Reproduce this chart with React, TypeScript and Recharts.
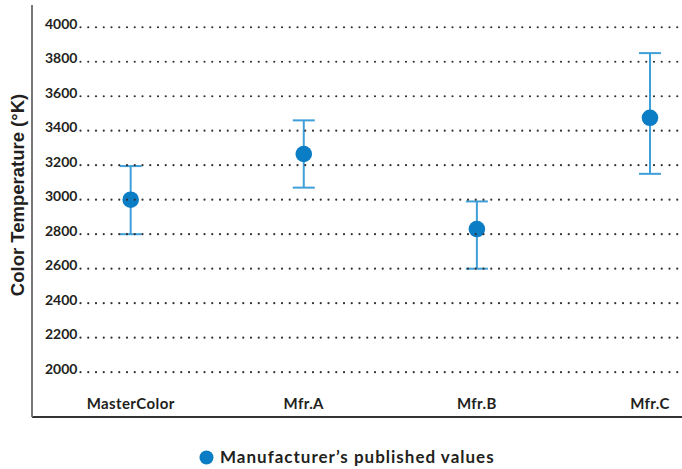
import React from 'react';
import { ScatterChart, Scatter, XAxis, YAxis, ErrorBar, Legend } from 'recharts';

const categories = ['MasterColor', 'Mfr.A', 'Mfr.B', 'Mfr.C'];
const publishedValues = [3000, 3265, 2830, 3475];
const lowValues = [2800, 3070, 2600, 3150];
const highValues = [3195, 3460, 2990, 3850];
const yTicks = [2000, 2200, 2400, 2600, 2800, 3000, 3200, 3400, 3600, 3800, 4000];
const xTicks = [0, 1, 2, 3];
const seriesName = 'Manufacturer\u2019s published values';
const yTitle = 'Color Temperature (\u00B0K)';

const data = categories.map((c, i) => ({
  x: i,
  name: c,
  y: publishedValues[i],
  err: [publishedValues[i] - lowValues[i], highValues[i] - publishedValues[i]],
}));

const POINT = '#0a7dc5';
const BAR = '#3f9fd8';
const TEXT = '#231f20';
const LABEL_FONT = 'Lato, "Open Sans", sans-serif';

const YTick = (props: any) => {
  const { y, payload } = props;
  const x = 32;
  return (
    <g>
      <text x={x + 13} y={y + 1.5} fontFamily={LABEL_FONT} fontWeight={700} fontSize={14} fill={TEXT} textAnchor="start">
        {payload.value}
      </text>
      <line x1={x + 48.5} x2={682} y1={y} y2={y} stroke="#333" strokeWidth={2.2} strokeDasharray="0 7.75" strokeLinecap="round" />
    </g>
  );
};

const XTick = (props: any) => {
  const { x, payload } = props;
  return (
    <text x={x} y={409} fontFamily={LABEL_FONT} fontWeight={700} fontSize={15} fill={TEXT} textAnchor="middle" letterSpacing={0.4}>
      {categories[payload.value]}
    </text>
  );
};

const YTitle = () => {
  const cx = 24;
  const cy = 195;
  return (
    <text x={cx} y={cy} transform={`rotate(-90 ${cx} ${cy})`} fontFamily='"Liberation Sans", Arial, sans-serif' fontWeight={700} fontSize={18.5} fill={TEXT} textAnchor="middle">
      {yTitle}
    </text>
  );
};

const LegendContent = () => (
  <div style={{ display: 'flex', alignItems: 'center', fontFamily: LABEL_FONT, fontWeight: 700, fontSize: 17, letterSpacing: 1, color: TEXT, whiteSpace: 'nowrap', lineHeight: '20px' }}>
    <svg width={15} height={15} style={{ display: 'block' }}>
      <circle cx={7.5} cy={7.5} r={7} fill={POINT} />
    </svg>
    <span style={{ marginLeft: 6 }}>{seriesName}</span>
  </div>
);

const Dot = (props: any) => {
  const { cx, cy } = props;
  return <circle cx={cx} cy={cy} r={8.3} fill={POINT} />;
};

export default function App() {
  return (
    <div style={{ position: 'absolute', left: 0, top: 0, width: 682, height: 469, background: '#fff' }}>
      <ScatterChart width={682} height={469} margin={{ top: 5, right: 0, bottom: 51, left: 31 }}>
        <XAxis
          type="number"
          dataKey="x"
          domain={[-0.57, 3.185]}
          allowDataOverflow
          ticks={xTicks}
          height={1}
          tickSize={0}
          tickMargin={0}
          tickLine={false}
          axisLine={{ stroke: '#333', strokeWidth: 2 }}
          tick={<XTick />}
          interval={0}
        />
        <YAxis
          type="number"
          dataKey="y"
          domain={[1740, 4129]}
          allowDataOverflow
          ticks={yTicks}
          width={1}
          tickSize={0}
          tickMargin={0}
          tickLine={false}
          axisLine={{ stroke: '#777', strokeWidth: 2 }}
          tick={<YTick />}
          interval={0}
          label={<YTitle />}
        />
        <Legend layout="horizontal" verticalAlign="middle" align="center" wrapperStyle={{ top: 447, left: 199, width: 'auto' }} content={<LegendContent />} />
        <Scatter name={seriesName} data={data} fill={POINT} shape={<Dot />} isAnimationActive={false}>
          <ErrorBar dataKey="err" direction="y" width={11} stroke={BAR} strokeWidth={2} isAnimationActive={false} />
        </Scatter>
      </ScatterChart>
    </div>
  );
}
